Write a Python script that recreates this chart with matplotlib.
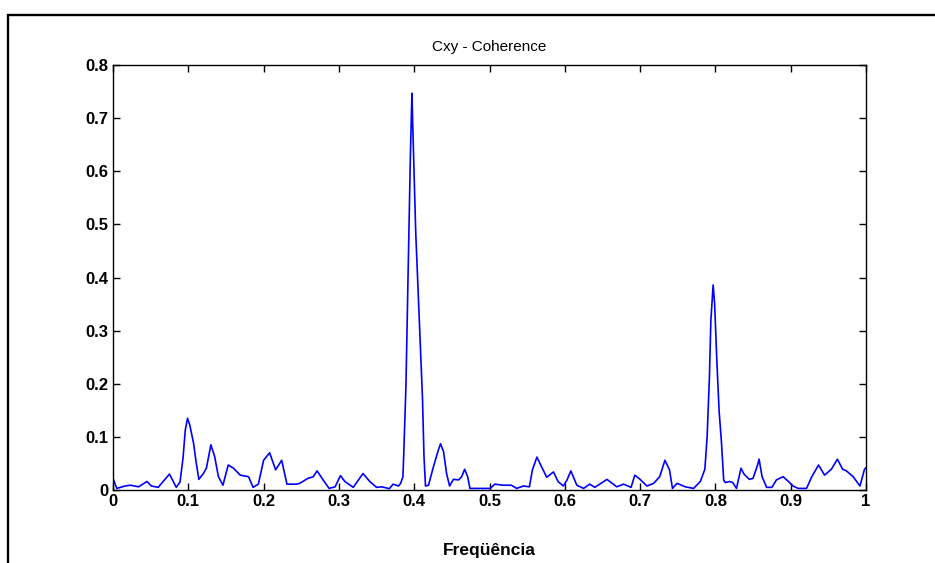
import matplotlib
matplotlib.use("Agg")
import matplotlib.pyplot as plt
from matplotlib.patches import Rectangle
from matplotlib.ticker import FixedLocator, FixedFormatter

# Coherence estimate Cxy(f), normalised frequency 0..1
freq = [0.000, 0.005, 0.016, 0.023, 0.034, 0.045, 0.051, 0.060, 0.075, 0.084,
        0.089, 0.093, 0.096, 0.099, 0.102, 0.107, 0.110, 0.114, 0.120, 0.124,
        0.130, 0.135, 0.140, 0.146, 0.153, 0.160, 0.169, 0.180, 0.186, 0.193,
        0.200, 0.208, 0.216, 0.224, 0.231, 0.244, 0.248, 0.259, 0.266, 0.271,
        0.279, 0.287, 0.295, 0.302, 0.308, 0.319, 0.332, 0.341, 0.350, 0.357,
        0.367, 0.372, 0.379, 0.382, 0.385, 0.386, 0.389, 0.392, 0.395, 0.397,
        0.398, 0.400, 0.402, 0.405, 0.408, 0.411, 0.413, 0.415, 0.419, 0.425,
        0.432, 0.435, 0.439, 0.443, 0.447, 0.452, 0.459, 0.463, 0.467, 0.471,
        0.474, 0.501, 0.507, 0.518, 0.529, 0.536, 0.545, 0.553, 0.557, 0.563,
        0.569, 0.576, 0.585, 0.591, 0.598, 0.603, 0.608, 0.616, 0.625, 0.633,
        0.640, 0.656, 0.669, 0.678, 0.688, 0.693, 0.700, 0.709, 0.718, 0.726,
        0.733, 0.739, 0.743, 0.749, 0.760, 0.771, 0.780, 0.786, 0.789, 0.792,
        0.794, 0.797, 0.799, 0.802, 0.805, 0.808, 0.811, 0.813, 0.819, 0.823,
        0.828, 0.834, 0.838, 0.845, 0.850, 0.856, 0.858, 0.862, 0.868, 0.875,
        0.881, 0.890, 0.897, 0.903, 0.910, 0.921, 0.928, 0.937, 0.945, 0.954,
        0.962, 0.969, 0.974, 0.983, 0.992, 0.998, 1.000]

cxy = [0.022, 0.003, 0.0075, 0.009, 0.006, 0.016, 0.0075, 0.005, 0.030, 0.005,
       0.015, 0.060, 0.113, 0.135, 0.122, 0.088, 0.056, 0.020, 0.031, 0.041,
       0.085, 0.063, 0.025, 0.009, 0.047, 0.041, 0.028, 0.025, 0.005, 0.011,
       0.056, 0.070, 0.038, 0.056, 0.011, 0.011, 0.0125, 0.022, 0.025, 0.036,
       0.019, 0.003, 0.006, 0.027, 0.016, 0.005, 0.031, 0.016, 0.005, 0.006,
       0.0025, 0.011, 0.0075, 0.0125, 0.025, 0.063, 0.194, 0.414, 0.634, 0.747,
       0.690, 0.590, 0.486, 0.383, 0.279, 0.173, 0.063, 0.0075, 0.009, 0.041,
       0.075, 0.087, 0.072, 0.031, 0.0075, 0.020, 0.019, 0.025, 0.039, 0.025,
       0.003, 0.003, 0.011, 0.009, 0.009, 0.003, 0.0075, 0.006, 0.038, 0.062,
       0.044, 0.024, 0.034, 0.016, 0.0075, 0.019, 0.036, 0.009, 0.003, 0.011,
       0.005, 0.020, 0.006, 0.011, 0.005, 0.028, 0.020, 0.0075, 0.0125, 0.025,
       0.056, 0.038, 0.003, 0.0125, 0.006, 0.003, 0.016, 0.039, 0.100, 0.210,
       0.320, 0.386, 0.350, 0.240, 0.147, 0.091, 0.019, 0.014, 0.016, 0.014,
       0.003, 0.041, 0.030, 0.020, 0.022, 0.047, 0.058, 0.025, 0.005, 0.005,
       0.019, 0.025, 0.016, 0.0075, 0.003, 0.003, 0.025, 0.047, 0.028, 0.039,
       0.058, 0.039, 0.036, 0.025, 0.0075, 0.039, 0.042]

x_ticks = [0, 0.1, 0.2, 0.3, 0.4, 0.5, 0.6, 0.7, 0.8, 0.9, 1.0]
x_labels = ["0", "0.1", "0.2", "0.3", "0.4", "0.5", "0.6", "0.7", "0.8", "0.9", "1"]
y_ticks = [0, 0.1, 0.2, 0.3, 0.4, 0.5, 0.6, 0.7, 0.8]
y_labels = ["0", "0.1", "0.2", "0.3", "0.4", "0.5", "0.6", "0.7", "0.8"]

plt.rcParams["font.family"] = ["Liberation Sans", "DejaVu Sans"]

W, H = 935, 563
fig = plt.figure(figsize=(W / 100, H / 100), dpi=100, facecolor="white")

# outer frame around the figure
fig.patches.append(Rectangle((7.5 / W, -0.05), 1.2, (H - 14.5) / H + 0.05,
                             transform=fig.transFigure, fill=False,
                             edgecolor="black", linewidth=1.7))

ax = fig.add_axes([113 / W, (H - 490) / H, (866 - 113) / W, (490 - 65) / H])
ax.plot(freq, cxy, color=(0, 0, 1), linewidth=1.2)

ax.set_xlim(0, 1)
ax.set_ylim(0, 0.8)
ax.xaxis.set_major_locator(FixedLocator(x_ticks))
ax.xaxis.set_major_formatter(FixedFormatter(x_labels))
ax.yaxis.set_major_locator(FixedLocator(y_ticks))
ax.yaxis.set_major_formatter(FixedFormatter(y_labels))

ax.tick_params(direction="in", length=5, width=1, top=True, right=True,
               labelsize=12, pad=3, colors="black")
for lab in ax.get_xticklabels() + ax.get_yticklabels():
    lab.set_fontweight("bold")
for sp in ax.spines.values():
    sp.set_linewidth(1.0)
    sp.set_color("black")

ax.set_title("Cxy - Coherence", fontsize=11, pad=10)
ax.set_xlabel("Freqüência", fontsize=12.5, fontweight="bold", labelpad=24)

fig.savefig("out.png", dpi=100, facecolor="white")
